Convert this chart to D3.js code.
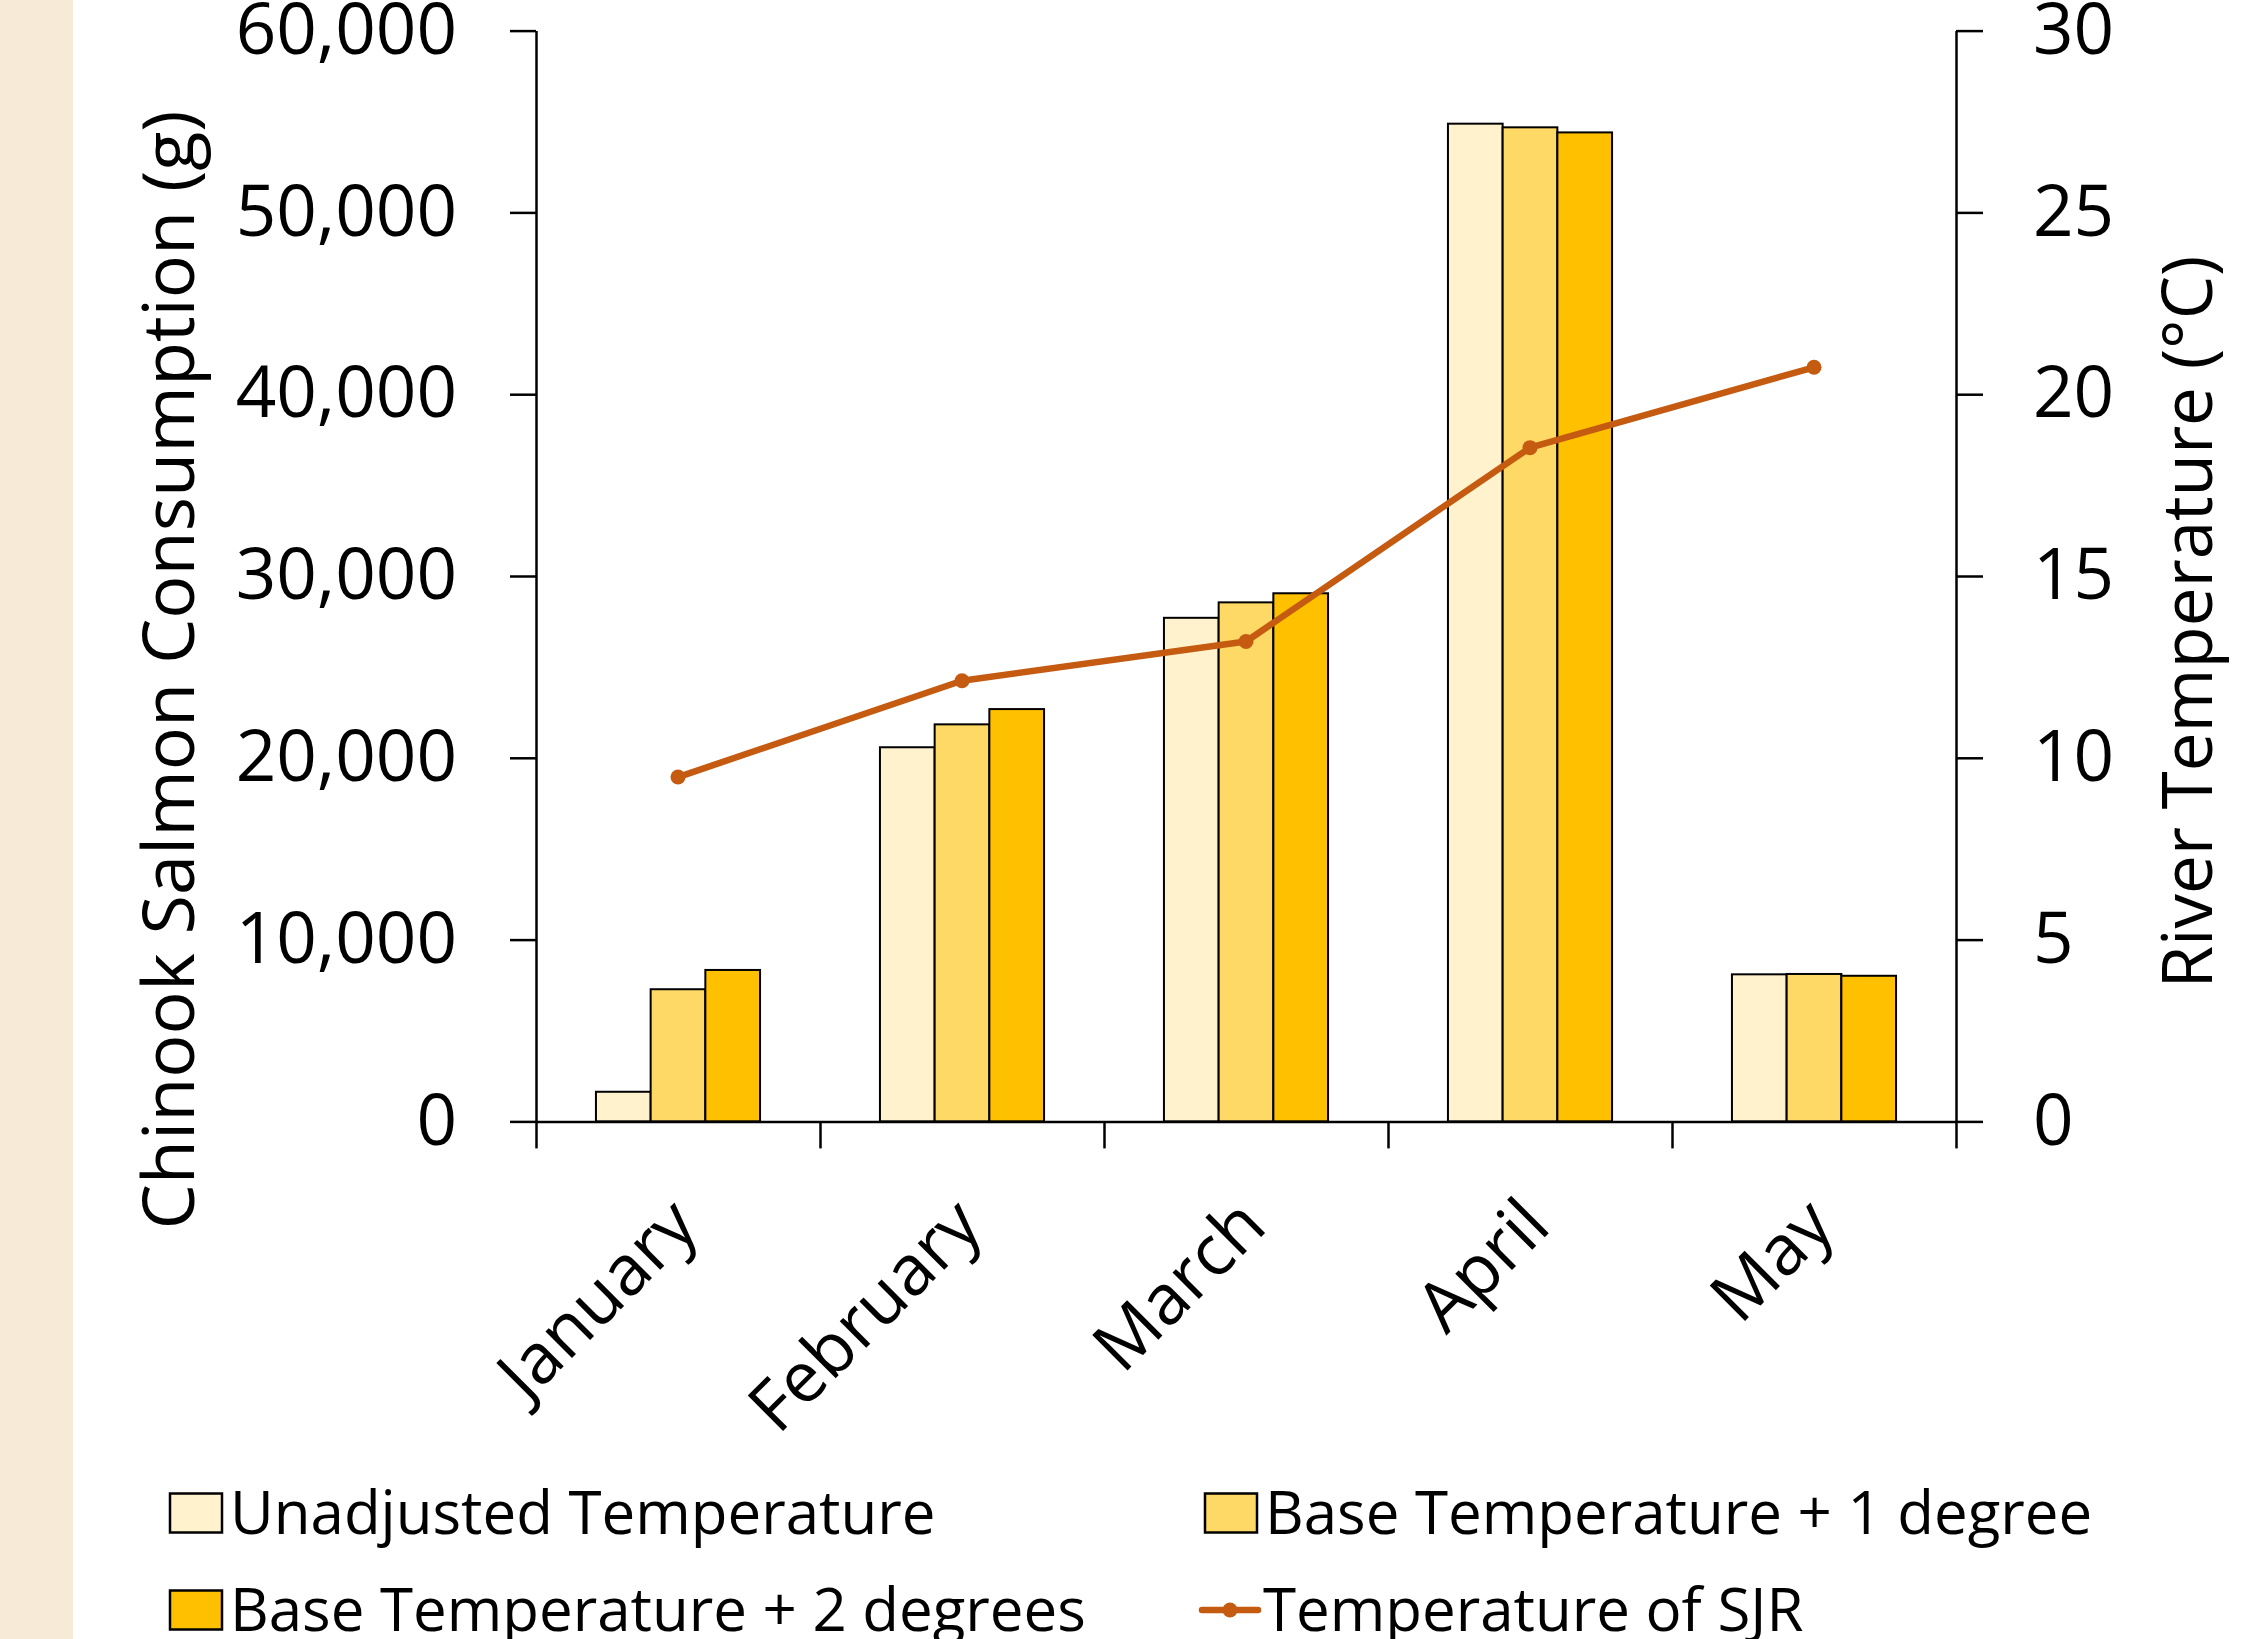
<!DOCTYPE html>
<html>
<head>
<meta charset="utf-8">
<script src="https://cdn.jsdelivr.net/npm/d3@7"></script>
<style>
  html, body { margin: 0; padding: 0; background: #fff; }
  svg { display: block; }
  text { font-family: "Open Sans", "Noto Sans", sans-serif; fill: #000; }
</style>
</head>
<body>
<div id="chart"></div>
<script>
// ---- data ----
const months = ["January", "February", "March", "April", "May"];
const seriesNames = ["Unadjusted Temperature", "Base Temperature + 1 degree", "Base Temperature + 2 degrees"];
const unadjusted = [1630, 20580, 27700, 54880, 8090];
const plusOne    = [7270, 21840, 28550, 54680, 8110];
const plusTwo    = [8330, 22680, 29050, 54400, 8010];
const tempSJR    = [9.47, 12.12, 13.2, 18.53, 20.74];
const lineName   = "Temperature of SJR";
const leftTicks  = [0, 10000, 20000, 30000, 40000, 50000, 60000];
const rightTicks = [0, 5, 10, 15, 20, 25, 30];
const leftTitle  = "Chinook Salmon Consumption (g)";
const rightTitle = "River Temperature (°C)";

// ---- styles ----
const barColors = ["#FFF2CC", "#FFD966", "#FFC000"];
const lineColor = "#C55A11";
const W = 2260, H = 1639;
const plot = { left: 536, right: 1956, top: 30.6, bottom: 1121.4 };

const svg = d3.select("#chart").append("svg").attr("width", W).attr("height", H);
svg.append("rect").attr("width", W).attr("height", H).attr("fill", "#fff");
svg.append("rect").attr("x", 0).attr("y", 0).attr("width", 73).attr("height", H).attr("fill", "#F7EAD7");

const x0 = d3.scaleBand().domain(months).range([plot.left, plot.right]).padding(0);
const x1 = d3.scaleBand().domain(d3.range(seriesNames.length)).range([0, x0.bandwidth()])
  .paddingInner(0).paddingOuter(1.096);
const xIdx = d3.scaleLinear().domain([0, months.length]).range([plot.left, plot.right]);
const yL = d3.scaleLinear().domain([0, 60000]).range([plot.bottom, plot.top]);
const yR = d3.scaleLinear().domain([0, 30]).range([plot.bottom, plot.top]);

const seriesValues = [unadjusted, plusOne, plusTwo];

// bars
const groups = svg.append("g").selectAll("g").data(months).join("g")
  .attr("transform", d => `translate(${x0(d)},0)`);
groups.selectAll("rect")
  .data((m, i) => seriesValues.map((vals, s) => ({ s, v: vals[i] })))
  .join("rect")
  .attr("x", d => x1(d.s))
  .attr("width", x1.bandwidth())
  .attr("y", d => yL(d.v))
  .attr("height", d => yL(0) - yL(d.v))
  .attr("fill", d => barColors[d.s])
  .attr("stroke", "#000")
  .attr("stroke-width", 2);

// axes
const fs = 71;
const styleAxis = g => {
  g.selectAll("path, line").attr("stroke", "#000").attr("stroke-width", 2.5);
  g.selectAll("text").attr("font-size", fs).attr("font-family", '"Open Sans", sans-serif').attr("fill", "#000");
};
svg.append("g").attr("transform", `translate(${plot.left},0)`)
  .call(d3.axisLeft(yL).tickValues(leftTicks).tickFormat(d3.format(",")).tickSize(26).tickSizeOuter(0).tickPadding(53))
  .call(styleAxis);
svg.append("g").attr("transform", `translate(${plot.right},0)`)
  .call(d3.axisRight(yR).tickValues(rightTicks).tickFormat(d3.format("d")).tickSize(27).tickSizeOuter(0).tickPadding(50))
  .call(g => g.selectAll("text").attr("text-anchor", "start"))
  .call(styleAxis);
svg.append("g").attr("transform", `translate(0,${plot.bottom})`)
  .call(d3.axisBottom(xIdx).tickValues(d3.range(months.length + 1)).tickFormat("").tickSize(27).tickSizeOuter(0))
  .call(styleAxis);

// category labels
svg.append("g").selectAll("text").data(months).join("text")
  .attr("transform", d => `translate(${x0(d) + x0.bandwidth() / 2 + 23},${1229}) rotate(-45)`)
  .attr("text-anchor", "end")
  .attr("font-size", 70)
  .text(d => d);

// axis titles
svg.append("text")
  .attr("transform", `translate(194,670) rotate(-90)`)
  .attr("text-anchor", "middle").attr("font-size", 72)
  .text(leftTitle);
svg.append("text")
  .attr("transform", `translate(2212,622) rotate(-90)`)
  .attr("text-anchor", "middle").attr("font-size", 69)
  .text(rightTitle);

// line
const line = d3.line().x((d, i) => x0(months[i]) + x0.bandwidth() / 2).y(d => yR(d));
svg.append("path").datum(tempSJR).attr("d", line)
  .attr("fill", "none").attr("stroke", lineColor).attr("stroke-width", 6.5)
  .attr("stroke-linejoin", "round").attr("stroke-linecap", "round");
svg.append("g").selectAll("circle").data(tempSJR).join("circle")
  .attr("cx", (d, i) => x0(months[i]) + x0.bandwidth() / 2)
  .attr("cy", d => yR(d)).attr("r", 7.5).attr("fill", lineColor);

// legend
const legFs = 60;
const legendItems = [
  { name: seriesNames[0], type: "bar", color: barColors[0], x: 170, y: 1513 },
  { name: seriesNames[1], type: "bar", color: barColors[1], x: 1205, y: 1513 },
  { name: seriesNames[2], type: "bar", color: barColors[2], x: 170, y: 1610 },
  { name: lineName, type: "line", color: lineColor, x: 1202, y: 1610 }
];
const leg = svg.append("g").selectAll("g").data(legendItems).join("g")
  .attr("transform", d => `translate(${d.x},${d.y})`);
leg.filter(d => d.type === "bar").append("rect")
  .attr("x", 0).attr("y", -19.5).attr("width", 52).attr("height", 39)
  .attr("fill", d => d.color).attr("stroke", "#000").attr("stroke-width", 2.5);
leg.filter(d => d.type === "line").append("line")
  .attr("x1", 0).attr("x2", 56).attr("y1", 0).attr("y2", 0)
  .attr("stroke", d => d.color).attr("stroke-width", 6.5).attr("stroke-linecap", "round");
leg.filter(d => d.type === "line").append("circle")
  .attr("cx", 28).attr("cy", 0).attr("r", 7.5).attr("fill", d => d.color);
leg.append("text")
  .attr("x", d => d.type === "bar" ? 60 : 61)
  .attr("y", 21)
  .attr("font-size", legFs)
  .text(d => d.name);
</script>
</body>
</html>
